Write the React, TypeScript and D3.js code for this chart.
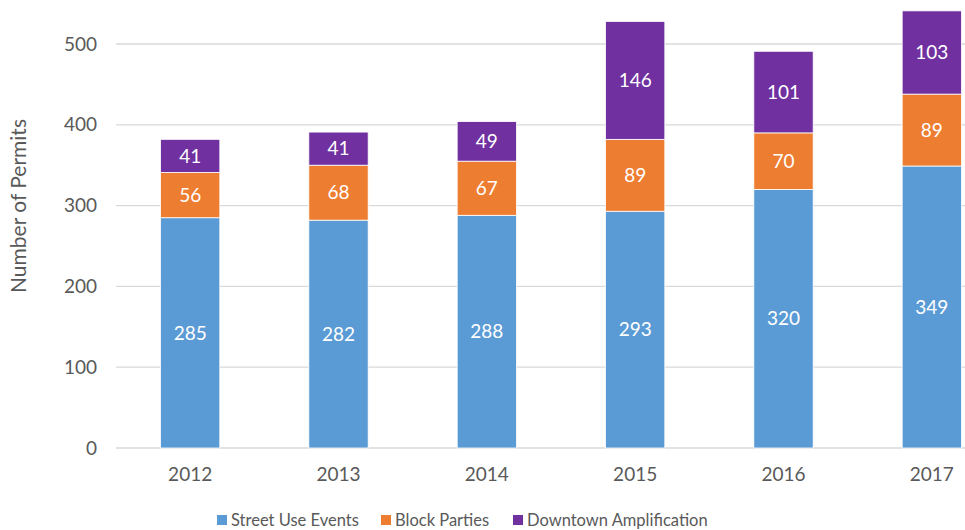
import React from "react";
import * as d3 from "d3";

const years = ["2012", "2013", "2014", "2015", "2016", "2017"];
const streetUse = [285, 282, 288, 293, 320, 349];
const blockParties = [56, 68, 67, 89, 70, 89];
const downtown = [41, 41, 49, 146, 101, 103];
const yTicks = [0, 100, 200, 300, 400, 500];
const seriesNames = ["Street Use Events", "Block Parties", "Downtown Amplification"];
const colors = ["#5B9BD5", "#ED7D31", "#7030A0"];

const W = 965;
const H = 530;
const FONT = "Lato, 'Open Sans', sans-serif";
const FS = 19;

export default function App() {
  const x = d3.scaleBand<string>().domain(years).range([116, 1006]).paddingInner(0.6).paddingOuter(0.3);
  const y = d3.scaleLinear().domain([0, 500]).range([448, 44]);
  const table = years.map((yr, i) => ({ year: yr, s0: streetUse[i], s1: blockParties[i], s2: downtown[i] }));
  const stack = d3.stack<any>().keys(["s0", "s1", "s2"])(table);

  return (
    <svg width={W} height={H} style={{ position: "absolute", left: 0, top: 0, background: "#fff" }}>
      {yTicks.map((t) => (
        <g key={t}>
          <line x1={116} x2={W} y1={y(t)} y2={y(t)} stroke="#D9D9D9" strokeWidth={1.3} />
          <text x={97} y={y(t)} dy="0.35em" textAnchor="end" fontFamily={FONT} fontSize={FS} fill="#595959">
            {t}
          </text>
        </g>
      ))}
      {stack.map((layer, si) =>
        layer.map((d, i) => {
          const x0 = x(years[i])!;
          const y0 = y(d[0]);
          const y1 = y(d[1]);
          return (
            <g key={`${si}-${i}`}>
              <rect x={x0} y={y1} width={x.bandwidth()} height={y0 - y1} fill={colors[si]} stroke="#fff" strokeWidth={0.8} />
              <text
                x={x0 + x.bandwidth() / 2}
                y={(y0 + y1) / 2}
                dy="0.35em"
                textAnchor="middle"
                fontFamily={FONT}
                fontSize={FS}
                fill="#fff"
              >
                {d[1] - d[0]}
              </text>
            </g>
          );
        })
      )}
      {years.map((yr) => (
        <text
          key={yr}
          x={x(yr)! + x.bandwidth() / 2}
          y={474}
          dy="0.35em"
          textAnchor="middle"
          fontFamily={FONT}
          fontSize={FS}
          fill="#595959"
        >
          {yr}
        </text>
      ))}
      <text
        transform={`translate(19, 206) rotate(-90)`}
        textAnchor="middle"
        dy="0.35em"
        fontFamily={FONT}
        fontSize={21}
        fill="#595959"
      >
        Number of Permits
      </text>
      {seriesNames.map((name, i) => {
        const lx = [217, 381, 513][i];
        return (
          <g key={name}>
            <rect x={lx} y={515} width={10} height={10} fill={colors[i]} />
            <text x={lx + 14} y={520.5} dy="0.35em" fontFamily={FONT} fontSize={16.5} fill="#595959">
              {name}
            </text>
          </g>
        );
      })}
    </svg>
  );
}
